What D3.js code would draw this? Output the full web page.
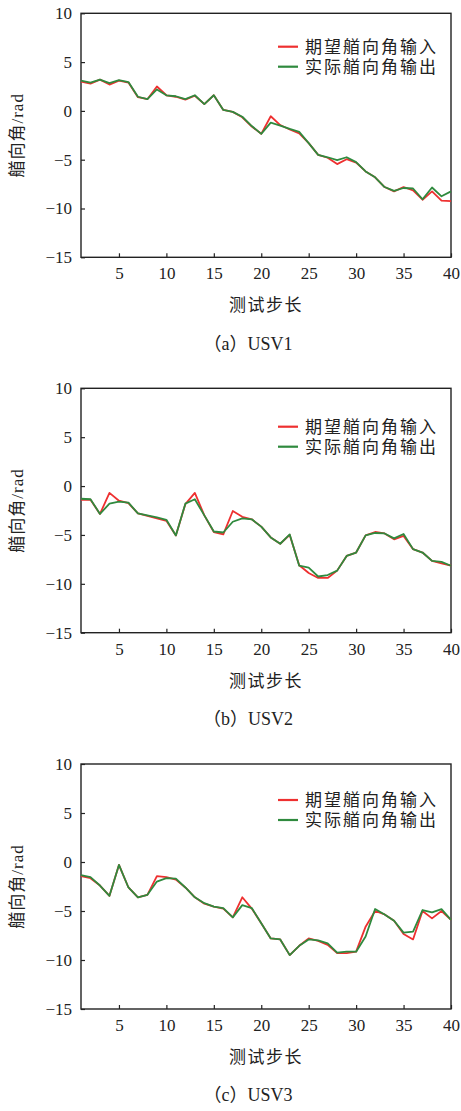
<!DOCTYPE html>
<html>
<head>
<meta charset="utf-8">
<script src="https://cdn.jsdelivr.net/npm/d3@7"></script>
<style>
  body { margin: 0; background: #fff; }
  svg text { font-family: "Liberation Serif", "Noto Sans CJK SC", serif; fill: #222; }
  .axis path, .axis line { stroke: #222; stroke-width: 1.2; }
</style>
</head>
<body>
<svg id="chart" width="461" height="1111"></svg>
<script>
// Test steps 1..40
const steps = d3.range(1, 41);

// Tick labels
const xTicks = [5, 10, 15, 20, 25, 30, 35, 40];
const yTicks = [10, 5, 0, -5, -10, -15];

const seriesNames = ['期望艏向角输入', '实际艏向角输出'];
const captions = ['（a）USV1', '（b）USV2', '（c）USV3'];

// USV1 heading angles (rad)
const usv1Desired = [3.0, 2.8, 3.2, 2.7, 3.1, 2.9, 1.4, 1.2, 2.5, 1.6,
  1.45, 1.15, 1.55, 0.7, 1.6, 0.1, -0.1, -0.65, -1.6, -2.35,
  -0.55, -1.45, -1.9, -2.3, -3.3, -4.5, -4.8, -5.45, -4.95, -5.3,
  -6.2, -6.8, -7.8, -8.25, -7.8, -8.15, -9.1, -8.25, -9.2, -9.25];
const usv1Actual = [3.1, 2.9, 3.2, 2.85, 3.15, 2.95, 1.45, 1.2, 2.2, 1.6,
  1.5, 1.2, 1.6, 0.7, 1.6, 0.1, -0.1, -0.6, -1.55, -2.35,
  -1.2, -1.5, -1.85, -2.15, -3.3, -4.5, -4.75, -5.05, -4.75, -5.25,
  -6.2, -6.8, -7.8, -8.2, -7.9, -7.95, -9.05, -7.85, -8.75, -8.25];

// USV2 heading angles (rad)
const usv2Desired = [-1.4, -1.4, -2.85, -0.7, -1.5, -1.75, -2.8, -3.05, -3.3, -3.55,
  -5.05, -1.85, -0.7, -3.0, -4.7, -4.95, -2.55, -3.15, -3.4, -4.15,
  -5.25, -5.9, -5.0, -8.1, -8.9, -9.4, -9.4, -8.65, -7.15, -6.8,
  -5.05, -4.7, -4.85, -5.45, -5.1, -6.45, -6.8, -7.65, -7.9, -8.15];
const usv2Actual = [-1.3, -1.35, -2.85, -1.8, -1.6, -1.7, -2.8, -3.0, -3.2, -3.45,
  -5.05, -1.8, -1.35, -3.0, -4.65, -4.75, -3.65, -3.3, -3.4, -4.15,
  -5.25, -5.9, -4.95, -8.15, -8.35, -9.25, -9.1, -8.65, -7.15, -6.8,
  -5.05, -4.8, -4.85, -5.35, -4.9, -6.45, -6.8, -7.65, -7.75, -8.15];

// USV3 heading angles (rad)
const usv3Desired = [-1.45, -1.65, -2.4, -3.45, -0.3, -2.6, -3.6, -3.35, -1.45, -1.55,
  -1.8, -2.6, -3.6, -4.25, -4.55, -4.75, -5.65, -3.6, -4.75, -6.25,
  -7.8, -7.9, -9.5, -8.55, -7.8, -8.05, -8.45, -9.3, -9.3, -9.15,
  -6.6, -5.0, -5.35, -6.0, -7.35, -7.9, -5.0, -5.75, -5.0, -5.9];
const usv3Actual = [-1.35, -1.55, -2.4, -3.45, -0.3, -2.6, -3.6, -3.35, -2.0, -1.65,
  -1.7, -2.6, -3.6, -4.2, -4.55, -4.7, -5.65, -4.4, -4.7, -6.25,
  -7.8, -7.9, -9.5, -8.55, -7.9, -8.0, -8.3, -9.25, -9.15, -9.15,
  -7.6, -4.8, -5.35, -6.0, -7.2, -7.1, -4.9, -5.15, -4.8, -5.9];

const panels = [
  { desired: usv1Desired, actual: usv1Actual, top: 13.3, bottom: 257.3, legendY: 46.7 },
  { desired: usv2Desired, actual: usv2Actual, top: 388.3, bottom: 632.7, legendY: 426.7 },
  { desired: usv3Desired, actual: usv3Actual, top: 764, bottom: 1009, legendY: 800 }
];

const colors = ['#ee3030', '#2f8a3e'];
const left = 81, right = 451;

const svg = d3.select('#chart');

const xScale = d3.scaleLinear().domain([1, 40]).range([left, right]);

panels.forEach((p, i) => {
  const yScale = d3.scaleLinear().domain([-15, 10]).range([p.bottom, p.top]);
  const g = svg.append('g');

  // Frame
  g.append('rect')
    .attr('x', left).attr('y', p.top)
    .attr('width', right - left).attr('height', p.bottom - p.top)
    .attr('fill', 'none').attr('stroke', '#222').attr('stroke-width', 1.4);

  // Axes with inward ticks
  const xAxis = g.append('g')
    .attr('class', 'axis')
    .attr('transform', `translate(0,${p.bottom})`)
    .call(d3.axisBottom(xScale).tickValues(xTicks).tickSizeInner(-4).tickSizeOuter(0).tickPadding(10));
  xAxis.select('.domain').remove();
  xAxis.selectAll('text').attr('font-size', 17);

  const yAxis = g.append('g')
    .attr('class', 'axis')
    .attr('transform', `translate(${left},0)`)
    .call(d3.axisLeft(yScale).tickValues(yTicks).tickSizeInner(-4).tickSizeOuter(0).tickPadding(9)
      .tickFormat(d => d < 0 ? '\u2212' + Math.abs(d) : d));
  yAxis.select('.domain').remove();
  yAxis.selectAll('text').attr('font-size', 17);

  // Lines
  const line = d3.line()
    .x((d, k) => xScale(steps[k]))
    .y(d => yScale(d));

  [p.desired, p.actual].forEach((vals, k) => {
    g.append('path')
      .datum(vals)
      .attr('d', line)
      .attr('fill', 'none')
      .attr('stroke', colors[k])
      .attr('stroke-width', 1.8)
      .attr('stroke-linejoin', 'round');
  });

  // Legend
  seriesNames.forEach((name, k) => {
    const ly = p.legendY + k * 20;
    g.append('line')
      .attr('x1', 278).attr('x2', 298)
      .attr('y1', ly).attr('y2', ly)
      .attr('stroke', colors[k]).attr('stroke-width', 2.2);
    g.append('text')
      .attr('x', 305).attr('y', ly)
      .attr('dy', '0.36em')
      .attr('font-size', 17)
      .attr('letter-spacing', 2)
      .text(name);
  });

  // Axis titles
  g.append('text')
    .attr('transform', `translate(17,${(p.top + p.bottom) / 2}) rotate(-90)`)
    .attr('text-anchor', 'middle')
    .attr('dy', '0.36em')
    .attr('font-size', 17)
    .attr('letter-spacing', 1)
    .text('艏向角/rad');

  g.append('text')
    .attr('x', (left + right) / 2)
    .attr('y', p.bottom + 48)
    .attr('text-anchor', 'middle')
    .attr('dy', '0.36em')
    .attr('font-size', 17)
    .attr('letter-spacing', 1.5)
    .text('测试步长');

  // Caption
  g.append('text')
    .attr('x', 248)
    .attr('y', p.bottom + 86)
    .attr('text-anchor', 'middle')
    .attr('dy', '0.36em')
    .attr('font-size', 18)
    .text(captions[i]);
});
</script>
</body>
</html>
